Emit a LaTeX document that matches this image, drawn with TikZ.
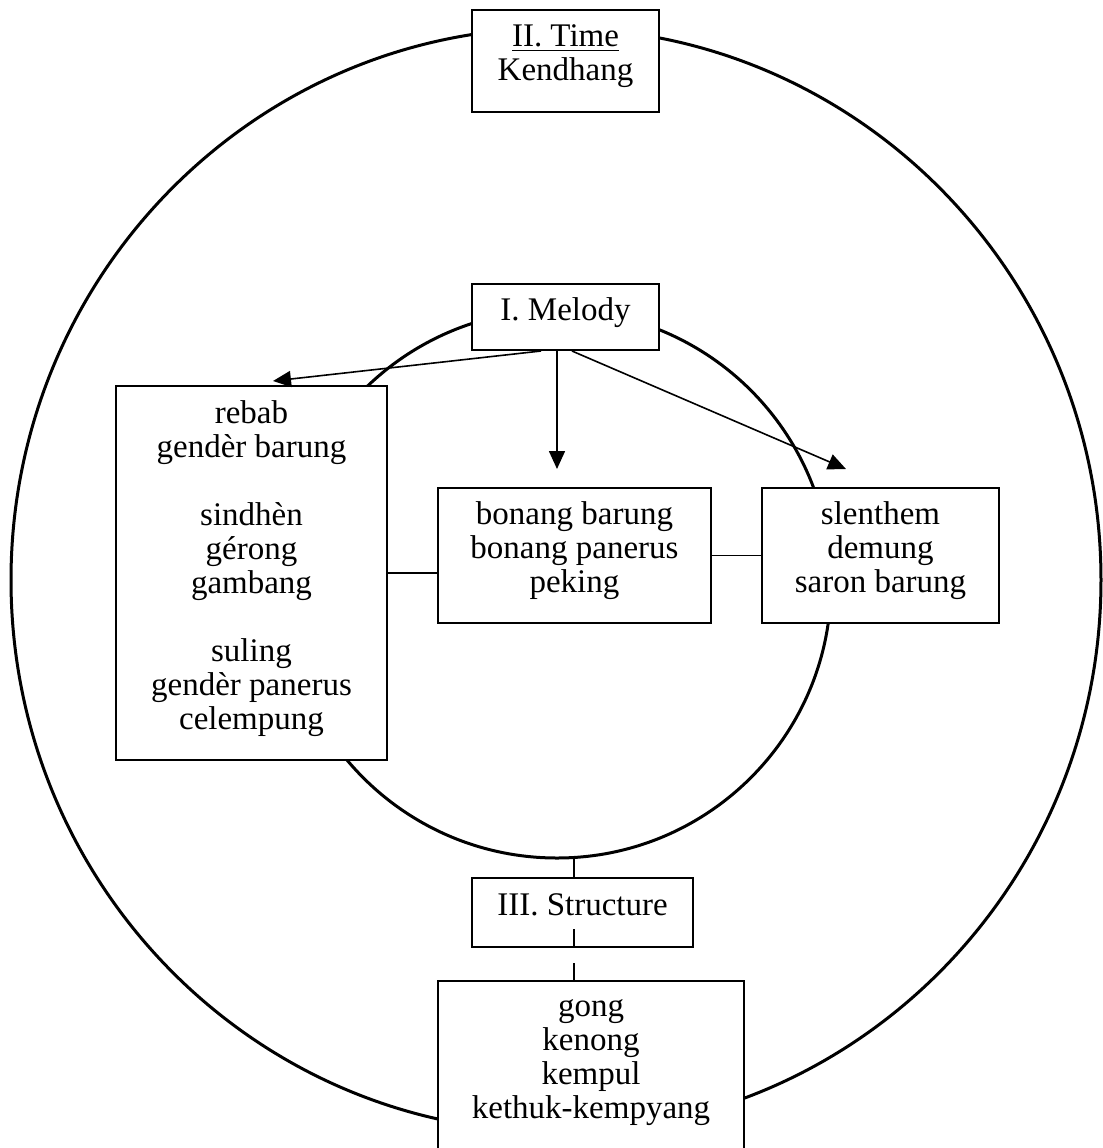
\documentclass[tikz,border=0pt]{standalone}
\usepackage{fontspec}
\setmainfont{Liberation Serif}
\usetikzlibrary{arrows.meta}
\newcommand{\padlow}{\rule[-8pt]{0pt}{8pt}}
\begin{document}
\begin{tikzpicture}
[x=0.5pt, y=-0.5pt,
 box/.style={draw=black, line width=1pt, fill=white, align=center, inner sep=0pt,
   font=\fontsize{16.5pt}{17pt}\selectfont},
 ring/.style={line width=1.5pt},
 >={Triangle[length=9pt, width=8pt]}, line width=0.8pt]
\useasboundingbox (0,0) rectangle (1103,1148);
% the two rings
\draw [ring] (556,580) ellipse [x radius=272.5pt, y radius=276pt];
\draw [ring] (557,584) circle [radius=137pt];

\node (Time) at (565.5,61) [box, minimum width=93.5pt, minimum height=51pt]
  {\underline{II. Time}\\ Kendhang\padlow};
\node (Melody) at (565.5,317) [box, minimum width=93.5pt, minimum height=33pt]
  {I. Melody\padlow};
\node (Rebab) at (251.5,573) [box, minimum width=135.5pt, minimum height=187pt]
  {rebab\\ gendèr barung\\[17pt] sindhèn\\ gérong\\ gambang\\[17pt] suling\\ gendèr panerus\\ celempung\padlow};
\node (Bonang) at (574.5,555.5) [box, minimum width=136.5pt, minimum height=67.5pt]
  {bonang barung\\ bonang panerus\\ peking\padlow};
\node (Slenthem) at (880.5,555.5) [box, minimum width=118.5pt, minimum height=67.5pt]
  {slenthem\\ demung\\ saron barung\padlow};
\node (Structure) at (582.5,912.5) [box, minimum width=110.5pt, minimum height=34.5pt]
  {III. Structure\padlow};
\node (Gong) at (591,1067) [box, minimum width=153pt, minimum height=86pt]
  {gong\\ kenong\\ kempul\\ kethuk-kempyang\padlow};

\draw [->] ([xshift=-12.25pt]Melody.south) -- ([xshift=10.75pt, yshift=2pt]Rebab.north);
\draw [->] ([xshift=-4.25pt]Melody.south) -- ([xshift=-8.75pt, yshift=9pt]Bonang.north);
\draw [->] ([xshift=3.25pt]Melody.south) -- ([xshift=-17.25pt, yshift=9pt]Slenthem.north);
\draw (Rebab.east) -- (Rebab.east -| Bonang.west);
\draw (Bonang.east) -- (Slenthem.west);

\coordinate (ringfoot) at (574,858);
\coordinate (structfoot) at (574,929);
\draw (ringfoot) -- (ringfoot |- Structure.north);
\draw [dash pattern=on 9.5pt off 7.5pt] (structfoot) -- (structfoot |- Gong.north);
\end{tikzpicture}
\end{document}
